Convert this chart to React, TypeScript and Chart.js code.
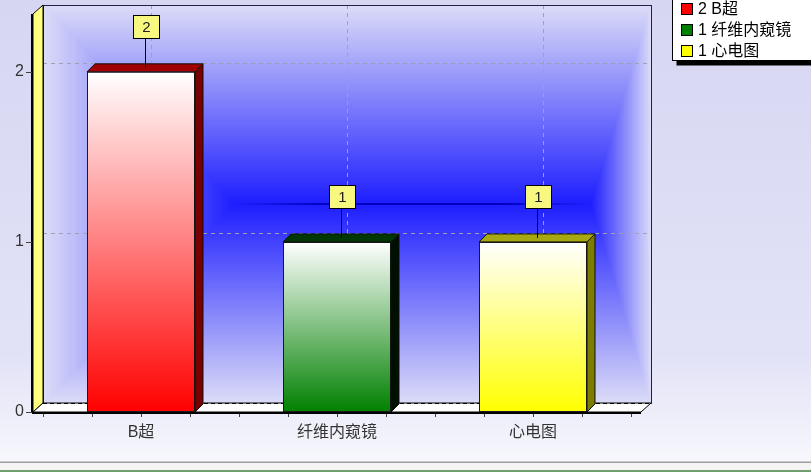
import React, { useEffect, useRef } from 'react';
import { Chart, registerables } from 'chart.js';

Chart.register(...registerables);

// ---- data ----
const categories = ['B超', '纤维内窥镜', '心电图'];
const counts = [2, 1, 1];
const yTickValues = [0, 1, 2];
const legendLabels = ['2 B超', '1 纤维内窥镜', '1 心电图'];
const frontColors = ['#ff0000', '#008000', '#ffff00'];
const topColors = ['#a00000', '#003800', '#a8a810'];
const sideColors = ['#780000', '#001000', '#7c7c00'];

// ---- style ----
const FONT = "'Liberation Sans', 'Noto Sans CJK SC', sans-serif";
const WALL = { dx: 10, dy: 9 };
const BAR = { dx: 8, dy: 8 };

type RGB = [number, number, number];
const lerp = (a: number, b: number, t: number) => a + (b - a) * t;
const rgb = (c: RGB) => `rgb(${Math.round(c[0])},${Math.round(c[1])},${Math.round(c[2])})`;

function rectGradient(ctx: CanvasRenderingContext2D, outer: any, inner: any, c0: RGB, c1: RGB, steps: number) {
  for (let i = 0; i <= steps; i++) {
    const t = i / steps;
    const l = lerp(outer.l, inner.l, t);
    const r = lerp(outer.r, inner.r, t);
    const tp = lerp(outer.t, inner.t, t);
    const b = lerp(outer.b, inner.b, t);
    ctx.fillStyle = rgb([lerp(c0[0], c1[0], t), lerp(c0[1], c1[1], t), lerp(c0[2], c1[2], t)]);
    ctx.fillRect(l, tp, r - l, Math.max(b - tp, 1));
  }
}

function line(ctx: CanvasRenderingContext2D, x1: number, y1: number, x2: number, y2: number) {
  ctx.beginPath();
  ctx.moveTo(x1, y1);
  ctx.lineTo(x2, y2);
  ctx.stroke();
}

function poly(ctx: CanvasRenderingContext2D, pts: number[][], fill: string | null, stroke: string | null, lw = 1) {
  ctx.beginPath();
  pts.forEach((p, i) => (i ? ctx.lineTo(p[0], p[1]) : ctx.moveTo(p[0], p[1])));
  ctx.closePath();
  if (fill) {
    ctx.fillStyle = fill;
    ctx.fill();
  }
  if (stroke) {
    ctx.strokeStyle = stroke;
    ctx.lineWidth = lw;
    ctx.stroke();
  }
}

const scene3d = {
  id: 'scene3d',
  beforeDraw(chart: any) {
    const { ctx, chartArea: ca, scales } = chart;
    const W = chart.width;
    const H = chart.height;
    const y = scales.y;
    const x = scales.x;
    const fL = ca.left - WALL.dx;
    const fR = ca.right + WALL.dx;
    const fT = ca.top;
    const fB = y.getPixelForValue(0);
    const bL = fL + WALL.dx;
    const bR = fR + WALL.dx;
    const bT = fT - WALL.dy;
    const bB = fB - WALL.dy;
    ctx.save();

    // panel background
    const g = ctx.createLinearGradient(0, 0, 0, H);
    g.addColorStop(0, '#d6d6f2');
    g.addColorStop(0.75, '#e2e2f7');
    g.addColorStop(0.97, '#f6f6fc');
    ctx.fillStyle = g;
    ctx.fillRect(0, 0, W, H);
    // window strip at bottom
    ctx.fillStyle = '#c8c8c8';
    ctx.fillRect(0, H - 11, W, 1);
    ctx.fillStyle = '#a0a0a0';
    ctx.fillRect(0, H - 10, W, 1);
    ctx.fillStyle = '#f4f4f4';
    ctx.fillRect(0, H - 9, W, 7);
    ctx.fillStyle = '#6f9f6f';
    ctx.fillRect(0, H - 2, W, 2);

    // back wall: rectangle gradient
    const wW = bR - bL;
    const cy = (bT + bB) / 2;
    rectGradient(
      ctx,
      { l: bL, r: bR, t: bT, b: bB },
      { l: bL + wW * 0.316, r: bR - wW * 0.1, t: cy, b: cy },
      [220, 220, 248],
      [30, 30, 255],
      220
    );
    const lg = ctx.createLinearGradient(bL + wW * 0.316, 0, bR - wW * 0.1, 0);
    lg.addColorStop(0, 'rgba(0,0,190,0)');
    lg.addColorStop(0.25, 'rgba(0,0,190,1)');
    lg.addColorStop(0.75, 'rgba(0,0,190,1)');
    lg.addColorStop(1, 'rgba(0,0,190,0)');
    ctx.strokeStyle = lg;
    ctx.lineWidth = 2;
    line(ctx, bL + wW * 0.316, cy, bR - wW * 0.1, cy);

    // grid on back wall
    ctx.setLineDash([4, 4]);
    ctx.strokeStyle = '#a0a0b4';
    ctx.lineWidth = 1;
    yTickValues
      .filter((v) => v > 0)
      .forEach((v) => {
        const py = Math.round(y.getPixelForValue(v) - WALL.dy) + 0.5;
        line(ctx, bL, py, bR, py);
      });
    categories.forEach((_, i) => {
      const px = Math.round(x.getPixelForValue(i) + WALL.dx) + 0.5;
      line(ctx, px, bT, px, bB);
    });
    ctx.setLineDash([]);

    // back wall border
    ctx.strokeStyle = '#20204a';
    ctx.lineWidth = 1;
    ctx.strokeRect(Math.round(bL) + 0.5, Math.round(bT) + 0.5, Math.round(bR - bL), Math.round(bB - bT));

    // left wall
    poly(ctx, [[fL, fT], [bL, bT], [bL, bB], [fL, fB]], '#ffff80', '#000000', 1);

    // floor
    poly(ctx, [[fL, fB], [bL, bB], [bR, bB], [fR, fB]], '#ffffff', '#000000', 1);
    ctx.setLineDash([4, 3]);
    ctx.strokeStyle = '#000000';
    line(ctx, bL, Math.round(bB) + 0.5, bR, Math.round(bB) + 0.5);
    ctx.setLineDash([]);

    // front axes
    ctx.strokeStyle = '#000000';
    ctx.lineWidth = 2;
    line(ctx, fL - 1, fT, fL - 1, fB + 1);
    line(ctx, fL - 1, fB + 1, fR, fB + 1);

    // y tick marks
    ctx.lineWidth = 1;
    ctx.strokeStyle = '#404040';
    yTickValues.forEach((v) => {
      const py = Math.round(y.getPixelForValue(v)) + 0.5;
      line(ctx, fL - 7, py, fL - 1, py);
    });
    // x tick marks (quarter steps)
    const step = x.getPixelForValue(1) - x.getPixelForValue(0);
    const x0 = x.getPixelForValue(0);
    for (let k = -2; k <= (categories.length - 1) * 4 + 2; k++) {
      const px = Math.round(x0 + (k * step) / 4) + 0.5;
      line(ctx, px, fB + 2, px, fB + 5);
    }
    ctx.restore();
  },
  afterDatasetsDraw(chart: any) {
    const { ctx } = chart;
    const meta = chart.getDatasetMeta(0);
    ctx.save();
    meta.data.forEach((bar: any, i: number) => {
      const { x, y, width, base } = bar.getProps(['x', 'y', 'width', 'base'], true);
      const l = x - width / 2;
      const r = x + width / 2;
      // side face
      poly(ctx, [[r, y], [r + BAR.dx, y - BAR.dy], [r + BAR.dx, base - BAR.dy], [r, base]], sideColors[i], '#101010', 1);
      // top face
      poly(ctx, [[l, y], [l + BAR.dx, y - BAR.dy], [r + BAR.dx, y - BAR.dy], [r, y]], topColors[i], '#101010', 1);

      // mark
      const ax = Math.round(x + BAR.dx / 2) + 0.5;
      const ay = y - BAR.dy / 2;
      const bw = 26;
      const bh = 23;
      const boxBottom = Math.round(ay - 30);
      ctx.strokeStyle = '#000000';
      ctx.lineWidth = 1;
      line(ctx, ax, boxBottom, ax, ay);
      const bx = Math.round(ax - bw / 2) + 0.5;
      const by = boxBottom - bh + 0.5;
      ctx.fillStyle = '#f8f880';
      ctx.fillRect(bx, by, bw, bh);
      ctx.strokeRect(bx, by, bw, bh);
      ctx.fillStyle = '#202020';
      ctx.font = `15px ${FONT}`;
      ctx.textAlign = 'center';
      ctx.textBaseline = 'middle';
      ctx.fillText(String(counts[i]), bx + bw / 2, by + bh / 2 + 1);
    });
    ctx.restore();
  },
  afterDraw(chart: any) {
    const { ctx } = chart;
    ctx.save();
    // legend
    const lx = 672.5;
    const ly = -4.5;
    const lw = 150;
    const lh = 65;
    ctx.fillStyle = '#000000';
    ctx.fillRect(lx + 4, ly + 5, lw, lh);
    ctx.fillStyle = '#ffffff';
    ctx.fillRect(lx, ly, lw, lh);
    ctx.strokeStyle = '#000000';
    ctx.lineWidth = 1;
    ctx.strokeRect(lx, ly, lw, lh);
    ctx.font = `16px ${FONT}`;
    ctx.textAlign = 'left';
    ctx.textBaseline = 'middle';
    legendLabels.forEach((lab, i) => {
      const cy = 9 + i * 21;
      ctx.fillStyle = frontColors[i];
      ctx.fillRect(681.5, Math.round(cy - 6) + 0.5, 11, 11);
      ctx.strokeStyle = '#000000';
      ctx.strokeRect(681.5, Math.round(cy - 6) + 0.5, 11, 11);
      ctx.fillStyle = '#000000';
      ctx.fillText(lab, 698, cy + 1);
    });
    ctx.restore();
  },
};

export default function App() {
  const ref = useRef<HTMLCanvasElement | null>(null);
  useEffect(() => {
    document.body.style.margin = '0';
    const canvas = ref.current;
    if (!canvas) return;
    const chart = new Chart(canvas, {
      type: 'bar',
      data: {
        labels: categories,
        datasets: [
          {
            data: counts,
            backgroundColor: (c: any) => {
              const i = c.dataIndex;
              const chart = c.chart;
              const ys = chart.scales && chart.scales.y;
              if (!chart.chartArea || !ys || i === undefined) return frontColors[i ?? 0];
              const top = ys.getPixelForValue(counts[i]);
              const bottom = ys.getPixelForValue(0);
              const g = chart.ctx.createLinearGradient(0, top, 0, bottom);
              g.addColorStop(0, '#ffffff');
              g.addColorStop(1, frontColors[i]);
              return g;
            },
            borderColor: '#1a1a1a',
            borderWidth: 1,
            borderSkipped: false,
            barPercentage: 0.551,
            categoryPercentage: 1,
          },
        ],
      },
      options: {
        responsive: false,
        animation: false,
        devicePixelRatio: 1,
        layout: { padding: { left: 0, top: 14, right: 180, bottom: 0 } },
        plugins: { legend: { display: false }, tooltip: { enabled: false } },
        scales: {
          x: {
            type: 'category',
            offset: true,
            grid: { display: false, drawTicks: false },
            border: { display: false },
            ticks: { padding: 11, color: '#333333', font: { family: FONT, size: 16 } },
            afterFit: (s: any) => {
              s.height = 60;
              s.paddingLeft = 0;
              s.paddingRight = 0;
              s.paddingTop = 0;
              s.paddingBottom = 0;
            },
          },
          y: {
            type: 'linear',
            min: 0,
            max: 2.34,
            grid: { display: false, drawTicks: false },
            border: { display: false },
            ticks: { padding: 19, color: '#333333', font: { family: FONT, size: 16 } },
            afterBuildTicks: (s: any) => {
              s.ticks = yTickValues.map((v) => ({ value: v }));
            },
            afterFit: (s: any) => {
              s.width = 43;
              s.paddingLeft = 0;
              s.paddingRight = 0;
              s.paddingTop = 0;
              s.paddingBottom = 0;
            },
          },
        },
      },
      plugins: [scene3d],
    });
    return () => chart.destroy();
  }, []);
  return <canvas ref={ref} width={811} height={472} style={{ display: 'block' }} />;
}
